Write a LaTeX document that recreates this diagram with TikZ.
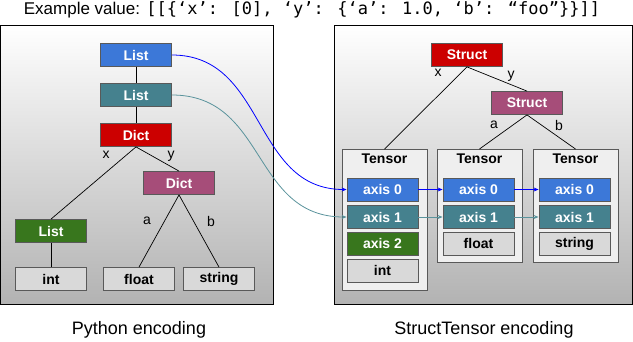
\documentclass[tikz,border=0pt]{standalone}
\usepackage{fontspec}
\setmainfont{Liberation Sans}
\newfontfamily\monofont{DejaVu Sans Mono}
\usetikzlibrary{arrows.meta}
\definecolor{cblue}{HTML}{3C78D8}
\definecolor{cteal}{HTML}{45818E}
\definecolor{cred}{HTML}{CC0000}
\definecolor{cpurple}{HTML}{A64D79}
\definecolor{cgreen}{HTML}{38761D}
\definecolor{clight}{HTML}{D9D9D9}
\definecolor{ctensor}{HTML}{EFEFEF}
\definecolor{cborder}{HTML}{595959}
\definecolor{arrblue}{HTML}{0000FF}
\definecolor{arrteal}{HTML}{5A939C}
\begin{document}
\begin{tikzpicture}[x=1pt,y=-1pt,
  box/.style={draw=cborder,line width=0.8pt,minimum width=71pt,minimum height=23pt,inner sep=0pt,font=\fontsize{14}{16}\selectfont\bfseries,anchor=center},
  colbox/.style={box,fill=#1,text=white},
  graybox/.style={box,fill=clight,text=black},
  panel/.style={draw=black,line width=0.8pt,top color=white,bottom color=black!30},
  tensorbox/.style={draw=cborder,line width=0.8pt,fill=ctensor},
  edge/.style={draw=black,line width=0.7pt},
  elabel/.style={font=\fontsize{14}{16}\selectfont,inner sep=0pt},
  caption/.style={font=\fontsize{18}{21}\selectfont,inner sep=0pt},
  link/.style={line width=0.8pt,-{Stealth[length=5pt,width=4pt]}},
]
\useasboundingbox (0,0) rectangle (633,341);
% title
\node[inner sep=0pt] (title) at (312,10) {\fontsize{17}{20}\selectfont Example value: {\monofont [[\{‘x’: [0], ‘y’: \{‘a’: 1.0, ‘b’: “foo”\}\}]]}};
% panels
\path[panel] (0,25) rectangle (273,304);
\path[panel] (334,25) rectangle (632,304);
\node[caption] (cap1) at (139,330) {Python encoding};
\node[caption] (cap2) at (484,330) {StructTensor encoding};
% left tree
\node[colbox=cblue] (l1) at (136,55) {List};
\node[colbox=cteal] (l2) at (136,95) {List};
\node[colbox=cred] (d1) at (136,135) {Dict};
\node[colbox=cpurple] (d2) at (179,183) {Dict};
\node[colbox=cgreen] (l3) at (51,231) {List};
\node[graybox] (int) at (51,279) {int};
\node[graybox] (float) at (139,279) {float};
\node[graybox] (string) at (219,279) {string};
\draw[edge] (l1.south) -- (l2.north);
\draw[edge] (l2.south) -- (d1.north);
\draw[edge] (d1.south) -- (l3.north);
\draw[edge] (d1.south) -- (d2.north);
\draw[edge] (d2.south) -- (float.north);
\draw[edge] (d2.south) -- (string.north);
\draw[edge] (l3.south) -- (int.north);
\node[elabel] (lx) at (106,155) {x};
\node[elabel] (ly) at (171,156) {y};
\node[elabel] (la) at (147,221) {a};
\node[elabel] (lb) at (211,221) {b};
% right tree
\node[colbox=cred] (s1) at (467,55) {Struct};
\node[colbox=cpurple] (s2) at (527,103) {Struct};
\path[tensorbox] (342,149) rectangle (427,290);
\path[tensorbox] (437,149) rectangle (522,262);
\path[tensorbox] (533,149) rectangle (618,262);
\coordinate (t1) at (384.5,149);
\coordinate (t2) at (479.5,149);
\coordinate (t3) at (575.5,149);
\node[font=\fontsize{14}{16}\selectfont\bfseries,inner sep=0pt] (tl1) at (384.5,159) {Tensor};
\node[font=\fontsize{14}{16}\selectfont\bfseries,inner sep=0pt] (tl2) at (479.5,159) {Tensor};
\node[font=\fontsize{14}{16}\selectfont\bfseries,inner sep=0pt] (tl3) at (575.5,159) {Tensor};
\draw[edge] (s1.south) -- (t1);
\draw[edge] (s1.south) -- (s2.north);
\draw[edge] (s2.south) -- (t2);
\draw[edge] (s2.south) -- (t3);
\node[elabel] (rx) at (438,73) {x};
\node[elabel] (ry) at (511,76) {y};
\node[elabel] (ra) at (494,125) {a};
\node[elabel] (rb) at (559,125) {b};
% tensor rows
\node[colbox=cblue] (a10) at (382.5,189.5) {axis 0};
\node[colbox=cteal] (a11) at (382.5,217) {axis 1};
\node[colbox=cgreen] (a12) at (382.5,243.5) {axis 2};
\node[graybox] (a1t) at (382.5,270.5) {int};
\node[colbox=cblue] (a20) at (478.5,189.5) {axis 0};
\node[colbox=cteal] (a21) at (478.5,217) {axis 1};
\node[graybox] (a2t) at (478.5,243.5) {float};
\node[colbox=cblue] (a30) at (574.5,189.5) {axis 0};
\node[colbox=cteal] (a31) at (574.5,217) {axis 1};
\node[graybox] (a3t) at (574.5,243.5) {string};
% links
\draw[link,arrblue] (l1.east) .. controls +(95,0) and +(-95,0) .. (a10.west);
\draw[link,arrteal] (l2.east) .. controls +(95,0) and +(-95,0) .. (a11.west);
\draw[link,arrblue] (a10.east) -- (a20.west);
\draw[link,arrblue] (a20.east) -- (a30.west);
\draw[link,arrteal] (a11.east) -- (a21.west);
\draw[link,arrteal] (a21.east) -- (a31.west);
\end{tikzpicture}
\end{document}
